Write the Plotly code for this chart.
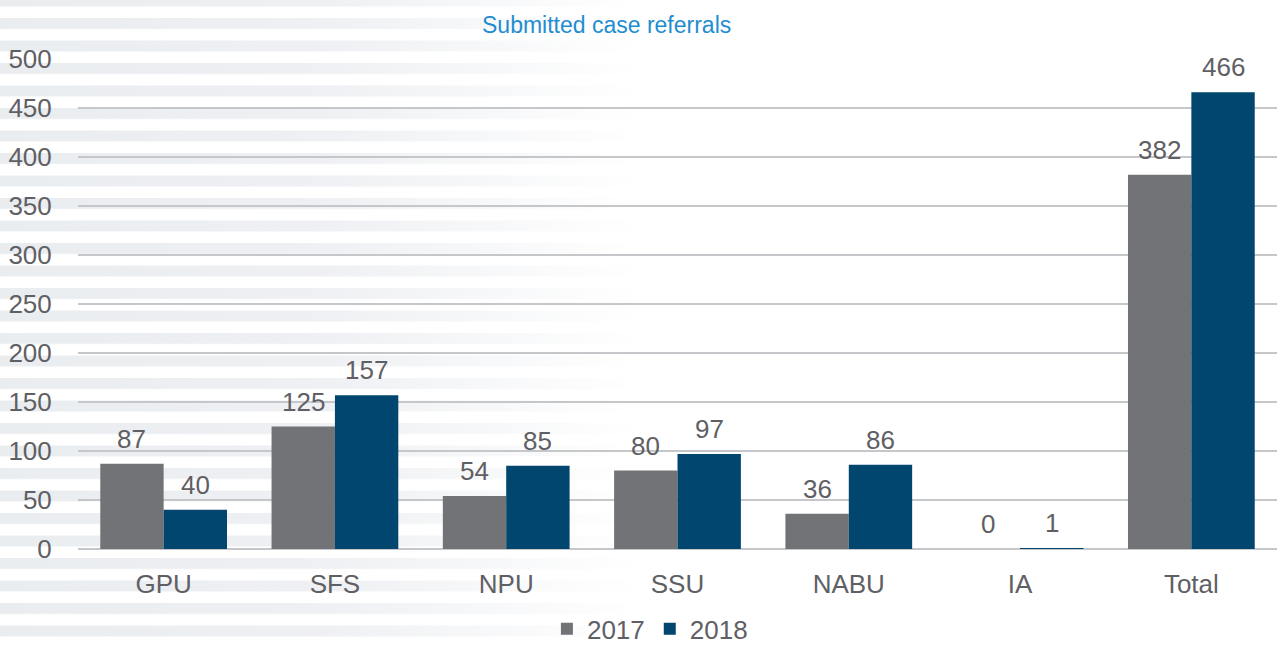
import base64
import plotly.graph_objects as go

# Data
categories = ["GPU", "SFS", "NPU", "SSU", "NABU", "IA", "Total"]
values_2017 = [87, 125, 54, 80, 36, 0, 382]
values_2018 = [40, 157, 85, 97, 86, 1, 466]
y_ticks = [0, 50, 100, 150, 200, 250, 300, 350, 400, 450, 500]

label_grey = "#5f6064"

# Striped background that fades out to the right (decorative only)
svg = (
    "<svg xmlns='http://www.w3.org/2000/svg' width='1280' height='646'>"
    "<defs>"
    "<linearGradient id='g' x1='0' x2='1' y1='0' y2='0'>"
    "<stop offset='0' stop-color='#eaedf0'/>"
    "<stop offset='0.25' stop-color='#eef0f3'/>"
    "<stop offset='0.5' stop-color='#ffffff'/>"
    "</linearGradient>"
    "<pattern id='p' x='0' y='-4.5' width='1280' height='22.5' patternUnits='userSpaceOnUse'>"
    "<rect width='1280' height='11' fill='url(#g)'/>"
    "</pattern>"
    "</defs>"
    "<rect width='1280' height='646' fill='url(#p)'/>"
    "</svg>"
)
bg_src = "data:image/svg+xml;base64," + base64.b64encode(svg.encode()).decode()

fig = go.Figure()
fig.add_trace(go.Bar(
    x=categories, y=values_2017, name="2017",
    marker=dict(color="#727377", line=dict(width=0)),
    hoverinfo="x+y"
))
fig.add_trace(go.Bar(
    x=categories, y=values_2018, name="2018",
    marker=dict(color="#00466e", line=dict(width=0)),
    hoverinfo="x+y"
))

# Value labels sit a bit higher above the bars than plotly's own outside text
annotations = [dict(text="Submitted case referrals", xref="paper", yref="paper",
                    x=0.441, y=1.069, showarrow=False, xanchor="center", yanchor="middle",
                    font=dict(size=23, color="#1f8dd0"))]
for vals, shift in ((values_2017, -31.7), (values_2018, 31.7)):
    for cat, v in zip(categories, vals):
        annotations.append(dict(x=cat, y=v, xref="x", yref="y", text=str(v), showarrow=False,
                                xshift=shift, yshift=25, xanchor="center", yanchor="middle",
                                font=dict(size=26, color=label_grey)))

fig.update_layout(
    width=1280, height=646,
    margin=dict(l=78, r=3, t=59, b=97, autoexpand=False),
    paper_bgcolor="white",
    plot_bgcolor="rgba(0,0,0,0)",
    font=dict(family="Arial, Liberation Sans, sans-serif", size=26, color=label_grey),
    barmode="group",
    bargap=0.26,
    bargroupgap=0,
    legend=dict(orientation="h", x=0.477, y=-0.163, xanchor="center", yanchor="middle",
                font=dict(size=26, color=label_grey), bgcolor="rgba(0,0,0,0)",
                itemwidth=30, traceorder="normal"),
    images=[dict(source=bg_src, xref="paper", yref="paper",
                 x=-78 / 1199, y=1 + 59 / 490, sizex=1280 / 1199, sizey=646 / 490,
                 sizing="stretch", xanchor="left", yanchor="top", layer="below")],
    annotations=annotations,
)
fig.update_xaxes(showgrid=False, showline=False, ticks="outside", ticklen=12,
                 tickcolor="rgba(0,0,0,0)", tickfont=dict(size=26, color=label_grey))
fig.update_yaxes(range=[0, 500], tickvals=y_ticks, showgrid=True, gridcolor="#c6c7cb",
                 gridwidth=2, zeroline=True, zerolinecolor="#c6c7cb", zerolinewidth=2,
                 ticks="outside", ticklen=20, tickcolor="rgba(0,0,0,0)",
                 tickfont=dict(size=26, color=label_grey))

# drop the browser's default 8px body margin so the figure sits at the page origin
fig.write_html("out.html", config={"displayModeBar": False},
               post_script="document.body.style.margin='0';")
